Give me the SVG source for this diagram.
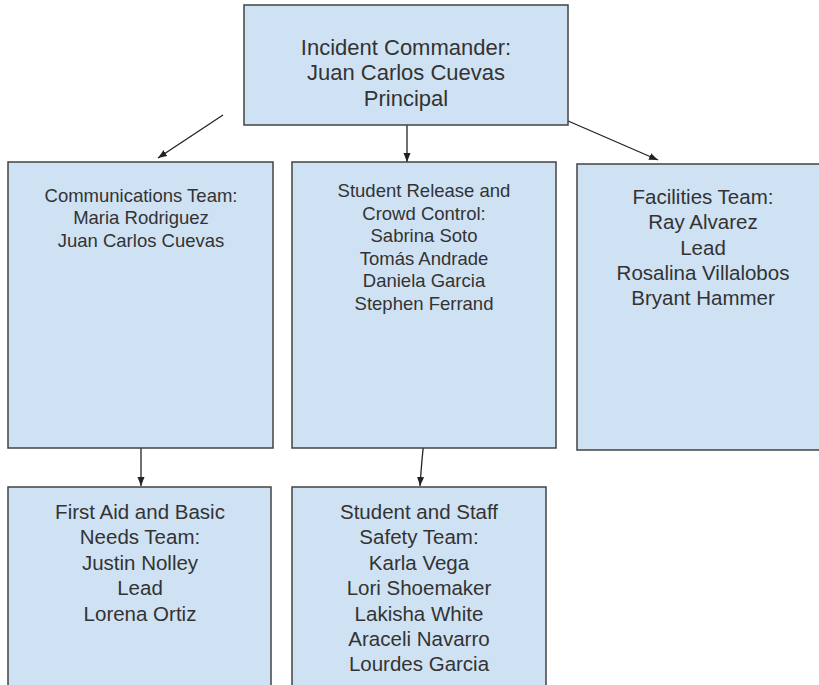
<svg xmlns="http://www.w3.org/2000/svg" width="819" height="685" viewBox="0 0 819 685">
<defs>
<style>
.box{fill:#cfe2f3;stroke:#434343;stroke-width:1.5}
.t{font-family:"Liberation Sans",Arial,sans-serif;fill:#333;text-anchor:middle}
.f18{font-size:18.5px}
.f20{font-size:20.5px}
.f21{font-size:22px}
.c{fill:none;stroke:#222;stroke-width:1.3}
</style>
<marker id="ah" markerUnits="userSpaceOnUse" markerWidth="10" markerHeight="8" refX="9" refY="4" orient="auto">
<path d="M0,0.5 L9,4 L0,7.5 z" fill="#222"/>
</marker>
</defs>
<rect width="819" height="685" fill="#fff"/>
<g id="connectors">
<line class="c" x1="223" y1="115" x2="158" y2="158" marker-end="url(#ah)"/>
<line class="c" x1="407" y1="114" x2="407" y2="162" marker-end="url(#ah)"/>
<line class="c" x1="552" y1="114" x2="658" y2="160" marker-end="url(#ah)"/>
<line class="c" x1="141" y1="438" x2="141" y2="486" marker-end="url(#ah)"/>
<path class="c" d="M425,433 Q422,455 420,486" marker-end="url(#ah)"/>
</g>
<g id="incident-commander">
<rect class="box" x="244" y="5" width="324" height="120"/>
<text class="t f21"><tspan x="406" y="54.5">Incident Commander:</tspan><tspan x="406" y="80">Juan Carlos Cuevas</tspan><tspan x="406" y="105.5">Principal</tspan></text>
</g>
<g id="communications">
<rect class="box" x="8" y="162" width="265" height="286"/>
<text class="t f18"><tspan x="141" y="201.5">Communications Team:</tspan><tspan x="141" y="224">Maria Rodriguez</tspan><tspan x="141" y="246.5">Juan Carlos Cuevas</tspan></text>
</g>
<g id="student-release">
<rect class="box" x="292" y="162" width="264" height="286"/>
<text class="t f18"><tspan x="424" y="197">Student Release and</tspan><tspan x="424" y="219.5">Crowd Control:</tspan><tspan x="424" y="242">Sabrina Soto</tspan><tspan x="424" y="264.5">Tomás Andrade</tspan><tspan x="424" y="287">Daniela Garcia</tspan><tspan x="424" y="309.5">Stephen Ferrand</tspan></text>
</g>
<g id="facilities">
<rect class="box" x="577" y="164" width="252" height="286"/>
<text class="t f20"><tspan x="703" y="204">Facilities Team:</tspan><tspan x="703" y="229">Ray Alvarez</tspan><tspan x="703" y="254.5">Lead</tspan><tspan x="703" y="280">Rosalina Villalobos</tspan><tspan x="703" y="305">Bryant Hammer</tspan></text>
</g>
<g id="first-aid">
<rect class="box" x="8" y="487" width="263" height="220"/>
<text class="t f20"><tspan x="140" y="519">First Aid and Basic</tspan><tspan x="140" y="544.4">Needs Team:</tspan><tspan x="140" y="569.8">Justin Nolley</tspan><tspan x="140" y="595.2">Lead</tspan><tspan x="140" y="620.6">Lorena Ortiz</tspan></text>
</g>
<g id="safety">
<rect class="box" x="292" y="487" width="254" height="220"/>
<text class="t f20"><tspan x="419" y="519">Student and Staff</tspan><tspan x="419" y="544.4">Safety Team:</tspan><tspan x="419" y="569.8">Karla Vega</tspan><tspan x="419" y="595.2">Lori Shoemaker</tspan><tspan x="419" y="620.6">Lakisha White</tspan><tspan x="419" y="646">Araceli Navarro</tspan><tspan x="419" y="671.4">Lourdes Garcia</tspan></text>
</g>
</svg>
